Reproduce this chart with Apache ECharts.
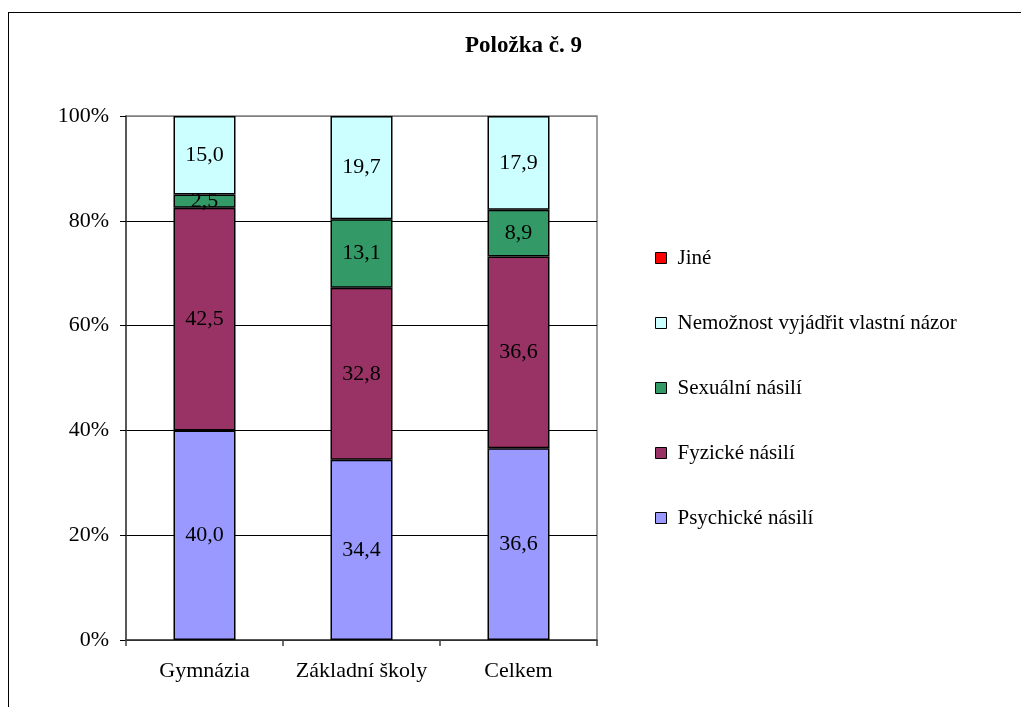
<!DOCTYPE html>
<html>
<head>
<meta charset="utf-8">
<script src="https://cdn.jsdelivr.net/npm/echarts@6/dist/echarts.min.js"></script>
<style>
  html, body { margin: 0; padding: 0; background: #fff; }
  #wrap { position: relative; width: 1021px; height: 707px; overflow: hidden; }
  #chart { position: absolute; left: 0; top: 0; width: 1021px; height: 707px; }
  #frame {
    position: absolute; left: 8px; top: 12px; width: 1100px; height: 800px;
    border-left: 1.5px solid #000; border-top: 1.5px solid #000; pointer-events: none;
  }
</style>
</head>
<body>
<div id="wrap">
  <div id="chart"></div>
  <div id="frame"></div>
</div>
<script>
const categories = ["Gymnázia", "Základní školy", "Celkem"];
const psychicke = [40.0, 34.4, 36.6];
const fyzicke = [42.5, 32.8, 36.6];
const sexualni = [2.5, 13.1, 8.9];
const nemoznost = [15.0, 19.7, 17.9];
const jine = [0, 0, 0];
const yTicks = [0, 20, 40, 60, 80, 100];

const font = "'Liberation Serif', 'DejaVu Serif', serif";

function fmtComma(value) {
  return Number(value).toFixed(1).replace(".", ",");
}

function barSeries(name, data, color, showBorder = true) {
  return {
    name,
    type: "bar",
    stack: "total",
    barWidth: 62,
    data,
    itemStyle: { color, borderColor: "#000", borderWidth: showBorder ? 1.5 : 0 },
    label: {
      show: showBorder,
      position: "inside",
      color: "#000",
      fontFamily: font,
      fontSize: 22,
      formatter: (p) => fmtComma(p.value),
    },
    emphasis: { disabled: true },
  };
}

const chart = echarts.init(document.getElementById("chart"));
chart.setOption({
  animation: false,
  backgroundColor: "#fff",
  title: {
    text: "Položka č. 9",
    left: 460,
    top: 30,
    textStyle: { fontFamily: font, fontSize: 23, fontWeight: "bold", color: "#000" },
  },
  grid: {
    left: 126, top: 116, width: 471, height: 524,
    show: true, borderColor: "#808080", borderWidth: 1.5, backgroundColor: "transparent",
  },
  legend: {
    orient: "vertical",
    left: 655,
    top: 247,
    padding: 0,
    icon: "rect",
    itemWidth: 11,
    itemHeight: 11,
    itemGap: 43,
    itemStyle: { borderColor: "#000", borderWidth: 1 },
    textStyle: { fontFamily: font, fontSize: 21, color: "#000", lineHeight: 22, padding: [0, 0, 0, 6] },
    data: ["Jiné", "Nemožnost vyjádřit vlastní názor", "Sexuální násilí", "Fyzické násilí", "Psychické násilí"],
  },
  xAxis: {
    type: "category",
    data: categories,
    axisLine: { lineStyle: { color: "#404040", width: 1.5 } },
    axisTick: { show: true, interval: 0, length: 6, lineStyle: { color: "#404040", width: 1.5 } },
    axisLabel: { interval: 0, color: "#000", fontFamily: font, fontSize: 22, margin: 20 },
  },
  yAxis: {
    type: "value",
    min: yTicks[0],
    max: yTicks[yTicks.length - 1],
    interval: 20,
    axisLine: { show: true, lineStyle: { color: "#404040", width: 1.5 } },
    axisTick: { show: true, length: 6, lineStyle: { color: "#000" } },
    axisLabel: { color: "#000", fontFamily: font, fontSize: 22, margin: 17, formatter: "{value}%" },
    splitLine: { show: true, lineStyle: { color: ["#000", "#000", "#000", "#000", "#000", "#808080"], width: 1 } },
  },
  series: [
    barSeries("Psychické násilí", psychicke, "#9999FF"),
    barSeries("Fyzické násilí", fyzicke, "#993366"),
    barSeries("Sexuální násilí", sexualni, "#339966"),
    barSeries("Nemožnost vyjádřit vlastní názor", nemoznost, "#CCFFFF"),
    barSeries("Jiné", jine, "#FF0000", false),
  ],
});
</script>
</body>
</html>
